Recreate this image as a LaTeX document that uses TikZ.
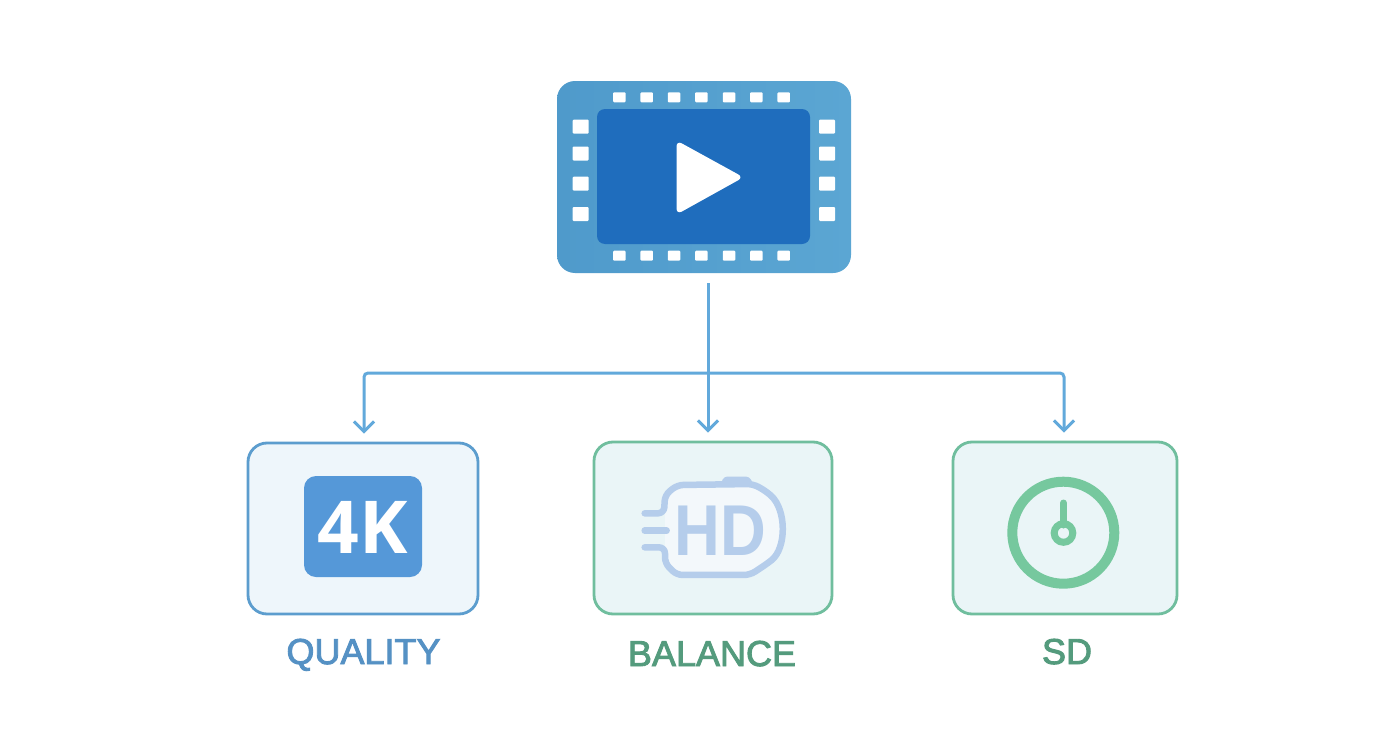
\documentclass[tikz,border=0pt]{standalone}
\usepackage{fontspec}
\setmainfont{Open Sans}
\newfontfamily\labfont[FakeBold=2.5]{Liberation Sans}
\newfontfamily\hdfont{Liberation Sans}
\usetikzlibrary{arrows.meta}
\definecolor{filmC}{HTML}{55A0CF}
\definecolor{filmL}{HTML}{4F9ACB}
\definecolor{filmR}{HTML}{5BA6D3}
\definecolor{screenC}{HTML}{1F6DBD}
\definecolor{connC}{HTML}{62A9DB}
\definecolor{blueLine}{HTML}{5C9DCE}
\definecolor{greenLine}{HTML}{70BE9E}
\definecolor{blueFill}{HTML}{EEF6FB}
\definecolor{greenFill}{HTML}{EAF5F7}
\definecolor{tileC}{HTML}{5598D8}
\definecolor{hdC}{HTML}{B5CDEB}
\definecolor{hdFill}{HTML}{F3F8FB}
\definecolor{clockC}{HTML}{76C89E}
\definecolor{blueText}{HTML}{5591C4}
\definecolor{greenText}{HTML}{549B7D}
\tikzset{
  boxbase/.style={draw,line width=2.8pt,rounded corners=19pt,inner sep=0pt},
  film/.style={left color=filmL,right color=filmR,rounded corners=18pt,inner sep=0pt,minimum width=294pt,minimum height=192pt},
  screen/.style={fill=screenC,rounded corners=8pt,inner sep=0pt,minimum width=213pt,minimum height=135pt},
  hole/.style={fill=white,rounded corners=1pt,inner sep=0pt,minimum width=12.5pt,minimum height=10pt},
  sidehole/.style={fill=white,rounded corners=1pt,inner sep=0pt,minimum width=16pt,minimum height=14pt},
  conn/.style={draw=connC,line width=3pt,rounded corners=4pt},
  arrowed/.style={-{Straight Barb[length=10pt,width=20pt,line width=3pt]},shorten >=8pt},
  lab/.style={font=\labfont\fontsize{36}{36}\selectfont,inner sep=0pt,anchor=base},
}
\begin{document}
\begin{tikzpicture}[x=1pt,y=-1pt]
\useasboundingbox (0,0) rectangle (1392,752);
\fill[white] (0,0) rectangle (1392,752);
% film
\node[film] (filmN) at (704,177) {};
\node[screen] (screenN) at (703.5,176.5) {};
\foreach \i/\x in {1/619.3,2/646.7,3/674,4/701.3,5/729,6/756.3,7/783.7}{
  \node[hole] (t\i) at (\x,97.3) {};
  \node[hole] (b\i) at (\x,255.7) {};
}
\foreach \i/\y in {1/126.7,2/153.5,3/183.7,4/214}{
  \node[sidehole] (l\i) at (580.7,\y) {};
  \node[sidehole] (r\i) at (827,\y) {};
}
\fill[white,rounded corners=6pt] (676.5,140.5) -- (743.5,177.3) -- (676.5,214.5) -- cycle;
% boxes
\node[boxbase,draw=blueLine,fill=blueFill,minimum width=230pt,minimum height=171pt] (boxA) at (363,528.5) {};
\node[boxbase,draw=greenLine,fill=greenFill,minimum width=238pt,minimum height=172pt] (boxB) at (713,528) {};
\node[boxbase,draw=greenLine,fill=greenFill,minimum width=224pt,minimum height=172pt] (boxC) at (1065,528) {};
% connectors
\coordinate (drop) at (708,373);
\coordinate (busA) at (364,373);
\coordinate (busC) at (1064,373);
\draw[conn,arrowed] (drop) -- (busA) -- (busA |- boxA.north);
\draw[conn,arrowed] (drop) -- (busC) -- (busC |- boxC.north);
\draw[conn,arrowed,shorten <=10pt] (drop |- filmN.south) -- (drop |- boxB.north);
% 4K tile
\node[fill=tileC,rounded corners=12pt,inner sep=0pt,minimum width=118pt,minimum height=101pt] (tile) at (363,526.5) {};
\node[inner sep=0pt,text=white,font=\fontsize{73}{73}\selectfont\bfseries,anchor=base] (fourk) at (363,553) {4K};
% HD icon
\begin{scope}[shift={(620,460)},x=0.3333pt,y=-0.3333pt]
  \fill[hdFill] (135,105) -- (172,75) -- (400,72) -- (440,95) .. controls (500,150) and (500,265) .. (440,312) -- (390,345) -- (170,345) -- (135,310) -- cycle;
  \fill[hdC,rounded corners=3pt] (302,72) -- (312,50) -- (388,50) -- (402,76) -- cycle;
  \draw[hdC,line width=6.5pt,line cap=round,line join=round,rounded corners=6pt]
    (74,160) -- (132,160) -- (135,105) -- (172,75) -- (400,72) -- (440,95)
    .. controls (500,150) and (500,265) .. (440,312) -- (390,345) -- (170,345) -- (135,310) -- (135,262) -- (74,262);
  \draw[hdC,line width=6.5pt,line cap=round] (74,212) -- (140,212);
\end{scope}
\node[inner sep=0pt,text=hdC,font=\hdfont\bfseries\fontsize{72}{72}\selectfont,anchor=base,xscale=.88] (hd) at (720.7,555) {HD};
% clock
\draw[clockC,line width=10pt] (1063.3,532.7) circle[radius=51pt];
\draw[clockC,line width=7pt,line cap=round] (1063.5,503) -- (1063.5,525);
\draw[clockC,line width=7pt] (1063.5,533) circle[radius=9.3pt];
% labels
\node[lab,text=blueText] (qualityL) at (363.5,664) {QUALITY};
\node[lab,text=greenText] (balanceL) at (712,666) {BALANCE};
\node[lab,text=greenText] (sdL) at (1067,664) {SD};
\end{tikzpicture}
\end{document}
